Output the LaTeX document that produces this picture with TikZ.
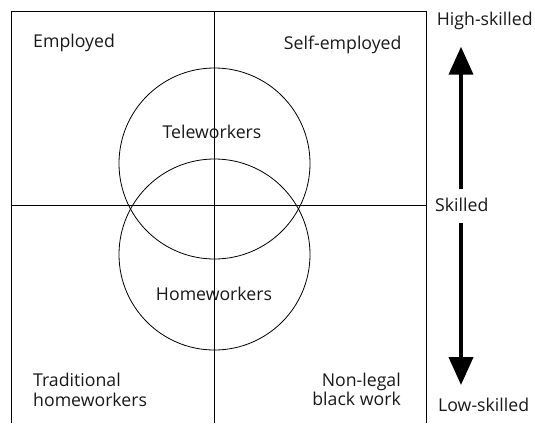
\documentclass[tikz,border=0pt]{standalone}
\usepackage{fontspec}
\setmainfont{Open Sans}
\usetikzlibrary{arrows.meta}
\begin{document}
\begin{tikzpicture}[x=1pt,y=-1pt,
  frame/.style={line width=0.9pt, black},
  ring/.style={line width=0.8pt, black},
  label/.style={font=\fontsize{17.7pt}{21pt}\selectfont, inner sep=0pt, text=black!90},
  scale arrow/.style={line width=4pt, -{Triangle[length=28pt,width=24pt]}}]
  \useasboundingbox (0,0) rectangle (535,423);

  % frame: top edge and two sides, open at the bottom
  \coordinate (tl) at (11.7,11);
  \coordinate (tr) at (426.7,11);
  \coordinate (bl) at (11.7,423);
  \coordinate (br) at (426.7,423);
  \draw[frame] (bl) -- (tl) -- (tr) -- (br);

  % quadrant axes
  \coordinate (vt) at (214.7,11);
  \coordinate (vb) at (214.7,423);
  \coordinate (hl) at (11.7,205.5);
  \coordinate (hr) at (426.7,205.5);
  \draw[frame] (vt) -- (vb);
  \draw[frame, line width=0.8pt] (hl) -- (hr);

  % overlapping groups
  \draw[ring] (214.5,163.5) circle[radius=95.5];
  \draw[ring] (214.5,254.5) circle[radius=95.5];

  % quadrant labels
  \node[label, anchor=base west] (emp) at (33,47) {Employed};
  \node[label, anchor=base east] (self) at (401.7,49) {Self-employed};
  \node[label, anchor=base] (tele) at (212,138.3) {Teleworkers};
  \node[label, anchor=base] (home) at (214,300.7) {Homeworkers};
  \node[label, anchor=base west] (trad1) at (33,386) {Traditional};
  \node[label, anchor=base west] (trad2) at (33,406.7) {homeworkers};
  \node[label, anchor=base east] (nl1) at (401,386.7) {Non-legal};
  \node[label, anchor=base east] (nl2) at (401,405) {black work};

  % skill scale
  \node[label, anchor=base west] (high) at (436.7,25) {High-skilled};
  \node[label, anchor=base west] (mid) at (435,211.7) {Skilled};
  \node[label, anchor=base west] (low) at (438,411) {Low-skilled};
  \coordinate (upfrom) at (461,189);
  \coordinate (upto) at (461,46.7);
  \coordinate (downfrom) at (461,223);
  \coordinate (downto) at (461,385);
  \draw[scale arrow] (upfrom) -- (upto);
  \draw[scale arrow] (downfrom) -- (downto);
\end{tikzpicture}
\end{document}
